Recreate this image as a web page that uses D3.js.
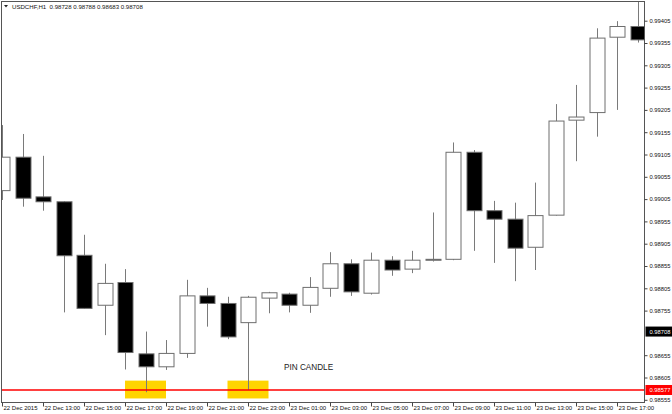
<!DOCTYPE html>
<html><head><meta charset="utf-8">
<script src="https://cdn.jsdelivr.net/npm/d3@7"></script>
<style>body{margin:0;background:#fff}svg{display:block}text{font-family:"Liberation Sans",Arial,sans-serif}</style>
</head><body>
<script>
// ---- data (USDCHF H1, 22 Dec 11:00 .. 23 Dec 18:00) ----
const candleIndex = d3.range(32);
const opens  = [0.99024,0.99099,0.99010,0.98999,0.98879,0.98767,0.98818,0.98658,0.98629,0.98659,0.98788,0.98771,0.98728,0.98783,0.98792,0.98767,0.98805,0.98860,0.98794,0.98868,0.98848,0.98869,0.98870,0.99110,0.98979,0.98960,0.98897,0.98969,0.99182,0.99199,0.99368,0.99392];
const highs  = [0.99171,0.99151,0.99102,0.99000,0.98925,0.98860,0.98848,0.98708,0.98689,0.98824,0.98806,0.98786,0.98788,0.98797,0.98795,0.98830,0.98886,0.98870,0.98885,0.98877,0.98889,0.98975,0.99132,0.99115,0.99001,0.98997,0.99042,0.99218,0.99261,0.99388,0.99404,0.99474];
const lows   = [0.99003,0.98988,0.98979,0.98751,0.98759,0.98700,0.98623,0.98572,0.98622,0.98649,0.98719,0.98691,0.98577,0.98749,0.98751,0.98750,0.98786,0.98788,0.98791,0.98833,0.98839,0.98865,0.98868,0.98889,0.98862,0.98821,0.98846,0.98968,0.99090,0.99145,0.99205,0.99356];
const closes = [0.99099,0.99007,0.98999,0.98878,0.98760,0.98816,0.98661,0.98629,0.98659,0.98788,0.98771,0.98696,0.98785,0.98795,0.98767,0.98807,0.98860,0.98797,0.98868,0.98846,0.98868,0.98870,0.99110,0.98979,0.98960,0.98895,0.98968,0.99180,0.99189,0.99366,0.99392,0.99362];

const xTickIndex  = [0,2,4,6,8,10,12,14,16,18,20,22,24,26,28,30];
const xTickLabels = ["22 Dec 2015","22 Dec 13:00","22 Dec 15:00","22 Dec 17:00","22 Dec 19:00","22 Dec 21:00","22 Dec 23:00","23 Dec 01:00","23 Dec 03:00","23 Dec 05:00","23 Dec 07:00","23 Dec 09:00","23 Dec 11:00","23 Dec 13:00","23 Dec 15:00","23 Dec 17:00"];
const yTickValues = [0.98555,0.98605,0.98655,0.98705,0.98755,0.98805,0.98855,0.98905,0.98955,0.99005,0.99055,0.99105,0.99155,0.99205,0.99255,0.99305,0.99355,0.99405];

const headerText = "USDCHF,H1  0.98728 0.98788 0.98683 0.98708";
const bidPrice = 0.98708;
const supportPrice = 0.98577;
const highlightCandles = [7, 12];
const highlightRange = [0.98558, 0.98598];
const noteText = "PIN CANDLE";
const notePos = [14.0, 0.98622]; // candle index, price

// ---- layout ----
const W = 672, H = 414;
const frame = {left: 1.5, right: 644.5, top: 1.5, bottom: 402.5};
const svg = d3.select("body").append("svg").attr("width", W).attr("height", H);

const x = d3.scaleLinear().domain([0, 30]).range([2, 617]);
const y = d3.scaleLinear().domain([0.98555, 0.99405]).range([399.8, 20.7]);
const bodyW = 15;

svg.append("defs").append("clipPath").attr("id","plot")
  .append("rect").attr("x", frame.left).attr("y", frame.top)
  .attr("width", frame.right - frame.left).attr("height", frame.bottom - frame.top);

const plot = svg.append("g").attr("clip-path","url(#plot)");

// highlight boxes
plot.selectAll("rect.hl").data(highlightCandles).join("rect").attr("class","hl")
  .attr("x", d => x(d) - (x(1) - x(0)))
  .attr("width", 2 * (x(1) - x(0)))
  .attr("y", y(highlightRange[1]))
  .attr("height", y(highlightRange[0]) - y(highlightRange[1]))
  .attr("fill", "#FFD400");

// candles
const cg = plot.selectAll("g.c").data(candleIndex).join("g").attr("class","c");
cg.append("line")
  .attr("x1", i => Math.round(x(i)) + 0.5).attr("x2", i => Math.round(x(i)) + 0.5)
  .attr("y1", i => y(highs[i])).attr("y2", i => y(lows[i]))
  .attr("stroke", "#7a7a7a").attr("stroke-width", 1);
cg.append("rect")
  .attr("x", i => Math.round(x(i)) + 0.5 - bodyW/2)
  .attr("width", bodyW)
  .attr("y", i => y(Math.max(opens[i], closes[i])))
  .attr("height", i => Math.max(1, Math.abs(y(opens[i]) - y(closes[i]))))
  .attr("fill", i => closes[i] < opens[i] ? "#000" : "#fff")
  .attr("stroke", "#6e6e6e").attr("stroke-width", 1);

// support line
plot.append("line")
  .attr("x1", frame.left).attr("x2", frame.right)
  .attr("y1", y(supportPrice)).attr("y2", y(supportPrice))
  .attr("stroke", "#ff0000").attr("stroke-width", 1.6);

// note
svg.append("text").attr("x", x(notePos[0]) - 5).attr("y", y(notePos[1]))
  .attr("font-size", 8.2).attr("fill", "#222").text(noteText);

// frame
svg.append("rect").attr("x", frame.left).attr("y", frame.top)
  .attr("width", frame.right - frame.left).attr("height", frame.bottom - frame.top)
  .attr("fill", "none").attr("stroke", "#555").attr("stroke-width", 1);

// right axis
const markerPrices = [bidPrice, supportPrice];
const yAxis = d3.axisRight(y).tickValues(yTickValues.filter(v => markerPrices.every(m => Math.abs(y(v) - y(m)) > 7)))
  .tickFormat(d3.format(".5f")).tickSize(3).tickSizeOuter(0).tickPadding(2);
const ya = svg.append("g").attr("transform", `translate(${frame.right},0)`).call(yAxis);
ya.select(".domain").remove();
ya.selectAll("text").attr("font-size", 5.8).attr("fill", "#111").attr("font-family", '"Liberation Sans",Arial,sans-serif');
ya.selectAll("line").attr("stroke", "#444");

// price markers
const markers = [{p: bidPrice, bg: "#000"}, {p: supportPrice, bg: "#ff0000"}];
const mg = svg.selectAll("g.mk").data(markers).join("g").attr("class","mk")
  .attr("transform", d => `translate(${frame.right + 1},${y(d.p)})`);
mg.append("rect").attr("x", 0).attr("y", -5).attr("width", W - frame.right).attr("height", 10).attr("fill", d => d.bg);
mg.append("text").attr("x", 4).attr("dy", "0.35em").attr("font-size", 5.8).attr("fill", "#fff")
  .text(d => d3.format(".5f")(d.p));

// bottom axis
const xAxis = d3.axisBottom(x).tickValues(xTickIndex)
  .tickFormat((d, k) => xTickLabels[k]).tickSize(4).tickSizeOuter(0).tickPadding(2);
const xa = svg.append("g").attr("transform", `translate(0,${frame.bottom})`).call(xAxis);
xa.select(".domain").remove();
xa.selectAll("line").attr("stroke", "#444");
xa.selectAll("text").attr("text-anchor", "start").attr("dx", 1).attr("dy", "0.2em")
  .attr("font-size", 6).attr("fill", "#111").attr("font-family", '"Liberation Sans",Arial,sans-serif');

// header
svg.append("path").attr("d", "M4,5 L8,5 L6,7.5 Z").attr("fill", "#222");
svg.append("text").attr("x", 12).attr("y", 8.5).attr("font-size", 6.1).attr("fill", "#111")
  .attr("xml:space","preserve").text(headerText);
</script>
</body></html>
